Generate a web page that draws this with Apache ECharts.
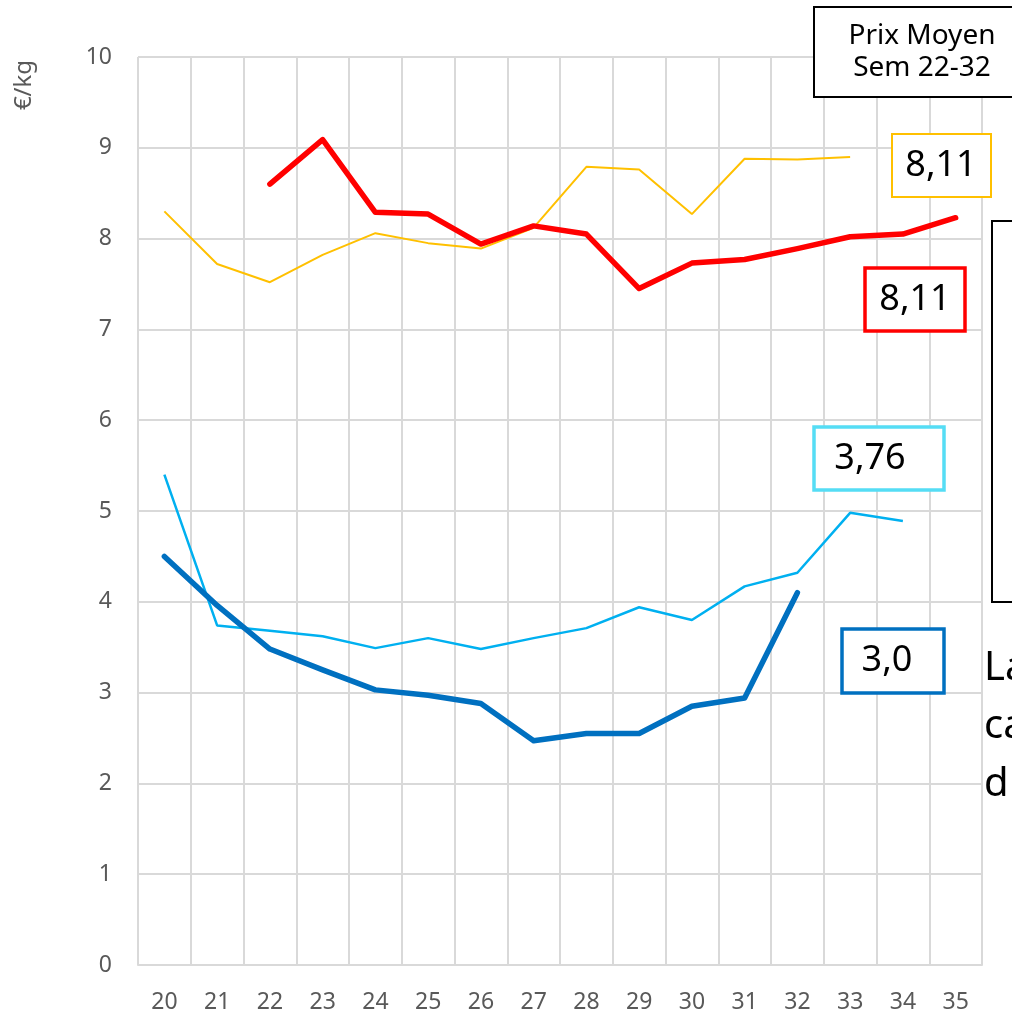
<!DOCTYPE html>
<html>
<head>
<meta charset="utf-8">
<script src="https://cdn.jsdelivr.net/npm/echarts@6/dist/echarts.min.js"></script>
<style>
html,body{margin:0;padding:0;background:#fff;}
#main{width:1012px;height:1023px;}
</style>
</head>
<body>
<div id="main"></div>
<script>
// semaines et prix moyens (€/kg)
var weeks = ['20','21','22','23','24','25','26','27','28','29','30','31','32','33','34','35'];
var yellowPrev = [8.30, 7.72, 7.52, 7.82, 8.06, 7.95, 7.89, 8.12, 8.79, 8.76, 8.27, 8.88, 8.87, 8.90, null, null];
var redCur     = [null, null, 8.60, 9.09, 8.29, 8.27, 7.94, 8.14, 8.05, 7.45, 7.73, 7.77, 7.89, 8.02, 8.05, 8.23];
var cyanPrev   = [5.40, 3.74, 3.68, 3.62, 3.49, 3.60, 3.48, 3.60, 3.71, 3.94, 3.80, 4.17, 4.32, 4.98, 4.89, null];
var blueCur    = [4.50, 3.96, 3.48, 3.25, 3.03, 2.97, 2.88, 2.47, 2.55, 2.55, 2.85, 2.94, 4.10, null, null, null];
var yTicks = [0, 10, 1];   // min, max, interval

var FONT = "'Noto Sans', sans-serif";
var GRID = '#D9D9D9';

function box(x, y, w, h, col, lw){
  return {type:'rect', shape:{x:x, y:y, width:w, height:h},
    style:{fill:'#fff', stroke:col, lineWidth:lw}, z:10};
}
function txt(x, y, s, size, align){
  return {type:'text', x:x, y:y, z:11,
    style:{text:s, fontSize:size, fontFamily:FONT, fill:'#000',
      align:align||'center', verticalAlign:'middle', lineHeight:size*1.15}};
}

var chart = echarts.init(document.getElementById('main'));
chart.setOption({
  backgroundColor:'#fff',
  animation:false,
  grid:{left:138, right:30, top:57, bottom:58},
  xAxis:{
    type:'category', data:weeks, boundaryGap:true,
    axisLine:{show:true, lineStyle:{color:GRID, width:2}},
    axisTick:{show:false},
    axisLabel:{color:'#595959', fontSize:23, fontFamily:FONT, margin:26, interval:0},
    splitLine:{show:true, interval:0, lineStyle:{color:GRID, width:2}}
  },
  yAxis:{
    type:'value', min:yTicks[0], max:yTicks[1], interval:yTicks[2],
    axisLine:{show:false}, axisTick:{show:false},
    axisLabel:{color:'#595959', fontSize:23, fontFamily:FONT, margin:26},
    splitLine:{lineStyle:{color:GRID, width:2}}
  },
  series:[
    {type:'line', data:yellowPrev, symbol:'none',
      lineStyle:{color:'#FFC000', width:2}, z:2},
    {type:'line', data:cyanPrev, symbol:'none',
      lineStyle:{color:'#00B0F0', width:2.5}, z:2},
    {type:'line', data:redCur, symbol:'none',
      lineStyle:{color:'#FF0000', width:5.5, cap:'round', join:'round'}, z:3},
    {type:'line', data:blueCur, symbol:'none',
      lineStyle:{color:'#0070C0', width:5.5, cap:'round', join:'round'}, z:3}
  ],
  graphic:[
    {type:'text', x:24, y:85, rotation:Math.PI/2, z:11,
      style:{text:'€/kg', fontSize:24, fontFamily:FONT, fill:'#595959', align:'center', verticalAlign:'middle'}},
    box(814, 7, 210, 90, '#000', 2),
    txt(922, 52, 'Prix Moyen\nSem 22-32', 28),
    box(892, 134, 99, 63, '#FFC000', 2),
    txt(941, 166, '8,11', 36),
    box(865, 268, 100, 63, '#FF0000', 3.5),
    txt(915, 300, '8,11', 36),
    box(992, 221, 40, 381, '#000', 2),
    box(814, 427, 130, 63, '#55DDF5', 3.5),
    txt(870, 459, '3,76', 36),
    box(842, 629, 102, 64, '#0070C0', 3.5),
    txt(887, 661, '3,0', 36),
    txt(984, 669, 'La', 40, 'left'),
    txt(984, 727, 'ca', 40, 'left'),
    txt(984, 785, 'd', 40, 'left')
  ]
});
</script>
</body>
</html>
